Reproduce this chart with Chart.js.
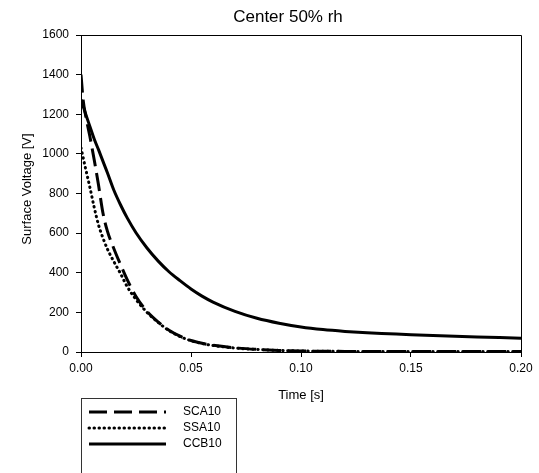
<!DOCTYPE html>
<html>
<head>
<meta charset="utf-8">
<script src="https://cdn.jsdelivr.net/npm/chart.js@4.4.1/dist/chart.umd.min.js"></script>
<style>
  html, body { margin: 0; padding: 0; background: #fff; }
  #wrap { width: 539px; height: 473px; position: relative; }
</style>
</head>
<body>
<div id="wrap"><canvas id="c" width="539" height="473"></canvas></div>
<script>
// ---- data ----
const chartTitle = "Center 50% rh";
const xTitle = "Time [s]";
const yTitle = "Surface Voltage [V]";
const seriesNames = ["SCA10", "SSA10", "CCB10"];

const timeS = [0, 0.001, 0.002, 0.004, 0.006, 0.008, 0.010, 0.012, 0.015, 0.018, 0.021, 0.025,
  0.030, 0.035, 0.040, 0.045, 0.050, 0.055, 0.060, 0.070, 0.080, 0.090, 0.100, 0.110,
  0.120, 0.130, 0.140, 0.150, 0.160, 0.170, 0.180, 0.190, 0.200];

const sca10 = [1400, 1270, 1200, 1090, 970, 840, 700, 610, 520, 440, 365, 280,
  205, 152, 110, 80, 58, 44, 34, 21, 13, 8, 5, 4,
  3, 3, 2, 2, 2, 2, 2, 2, 2];

const ssa10 = [1030, 980, 930, 833, 730, 640, 575, 520, 455, 395, 330, 265,
  200, 150, 108, 78, 57, 43, 33, 20, 13, 8, 5, 4,
  3, 3, 2, 2, 2, 2, 2, 2, 2];

const ccb10 = [1275, 1240, 1205, 1140, 1075, 1020, 962, 905, 815, 742, 677, 602,
  525, 460, 405, 360, 318, 282, 252, 205, 170, 145, 126, 113,
  104, 97, 92, 87, 83, 79, 76, 73, 70];

const yTicks = [0, 200, 400, 600, 800, 1000, 1200, 1400, 1600];
const xTicks = [0.00, 0.05, 0.10, 0.15, 0.20];

// ---- styles ----
const FONT = '"Liberation Sans", Arial, sans-serif';
const styles = [
  { borderDash: [18, 7], borderWidth: 3, borderCapStyle: 'butt' },
  { borderDash: [0.5, 4.5], borderWidth: 3, borderCapStyle: 'round' },
  { borderDash: [], borderWidth: 3, borderCapStyle: 'butt' }
];
const seriesValues = [sca10, ssa10, ccb10];

const datasets = seriesNames.map((name, i) => ({
  label: name,
  data: timeS.map((t, k) => ({ x: t, y: seriesValues[i][k] })),
  borderColor: '#000',
  backgroundColor: '#000',
  borderWidth: styles[i].borderWidth,
  borderDash: styles[i].borderDash,
  borderCapStyle: styles[i].borderCapStyle,
  pointRadius: 0,
  cubicInterpolationMode: 'monotone',
  fill: false
}));

const decor = {
  id: 'decor',
  afterDraw(chart) {
    const ctx = chart.ctx;
    const a = chart.chartArea;
    ctx.save();
    // frame top & right
    ctx.strokeStyle = '#000';
    ctx.lineWidth = 1;
    ctx.beginPath();
    ctx.moveTo(a.left, a.top + 0.5);
    ctx.lineTo(a.right + 0.5, a.top + 0.5);
    ctx.lineTo(a.right + 0.5, a.bottom);
    ctx.stroke();

    // title
    ctx.fillStyle = '#000';
    ctx.textAlign = 'center';
    ctx.textBaseline = 'middle';
    ctx.font = '17px ' + FONT;
    ctx.fillText(chartTitle, 288, 17);

    // axis titles
    ctx.font = '13px ' + FONT;
    ctx.fillText(xTitle, 301, 395);
    ctx.save();
    ctx.translate(27, 189);
    ctx.rotate(-Math.PI / 2);
    ctx.fillText(yTitle, 0, 0);
    ctx.restore();

    // legend box
    ctx.strokeStyle = '#333';
    ctx.lineWidth = 1;
    ctx.strokeRect(81.5, 398.5, 155, 120);
    ctx.font = '12px ' + FONT;
    ctx.textAlign = 'left';
    chart.data.datasets.forEach((ds, i) => {
      const y = 412 + i * 16;
      ctx.save();
      ctx.strokeStyle = '#000';
      ctx.lineWidth = ds.borderWidth;
      ctx.setLineDash(ds.borderDash);
      ctx.lineCap = ds.borderCapStyle;
      ctx.beginPath();
      ctx.moveTo(89, y);
      ctx.lineTo(166, y);
      ctx.stroke();
      ctx.restore();
      ctx.fillStyle = '#000';
      ctx.fillText(ds.label, 183, y);
    });
    ctx.restore();
  }
};

new Chart(document.getElementById('c'), {
  type: 'line',
  data: { datasets },
  options: {
    responsive: false,
    devicePixelRatio: 1,
    animation: false,
    layout: { padding: { left: 0, top: 35, right: 18, bottom: 0 } },
    plugins: { legend: { display: false }, title: { display: false }, tooltip: { enabled: false } },
    scales: {
      x: {
        type: 'linear',
        min: 0, max: 0.2,
        afterFit(s) { s.height = 121; },
        afterBuildTicks(s) { s.ticks = xTicks.map(v => ({ value: v })); },
        ticks: {
          color: '#000', padding: 4, maxRotation: 0,
          font: { family: FONT, size: 12 },
          callback: v => Number(v).toFixed(2)
        },
        grid: { display: true, drawOnChartArea: false, drawTicks: true, tickLength: 5, color: '#000' },
        border: { display: true, color: '#000', width: 1 }
      },
      y: {
        type: 'linear',
        min: 0, max: 1600,
        afterFit(s) { s.width = 81; },
        afterBuildTicks(s) { s.ticks = yTicks.map(v => ({ value: v })); },
        ticks: {
          color: '#000', padding: 7,
          font: { family: FONT, size: 12 },
          callback: v => String(v)
        },
        grid: { display: true, drawOnChartArea: false, drawTicks: true, tickLength: 5, color: '#000' },
        border: { display: true, color: '#000', width: 1 }
      }
    }
  },
  plugins: [decor]
});
</script>
</body>
</html>
